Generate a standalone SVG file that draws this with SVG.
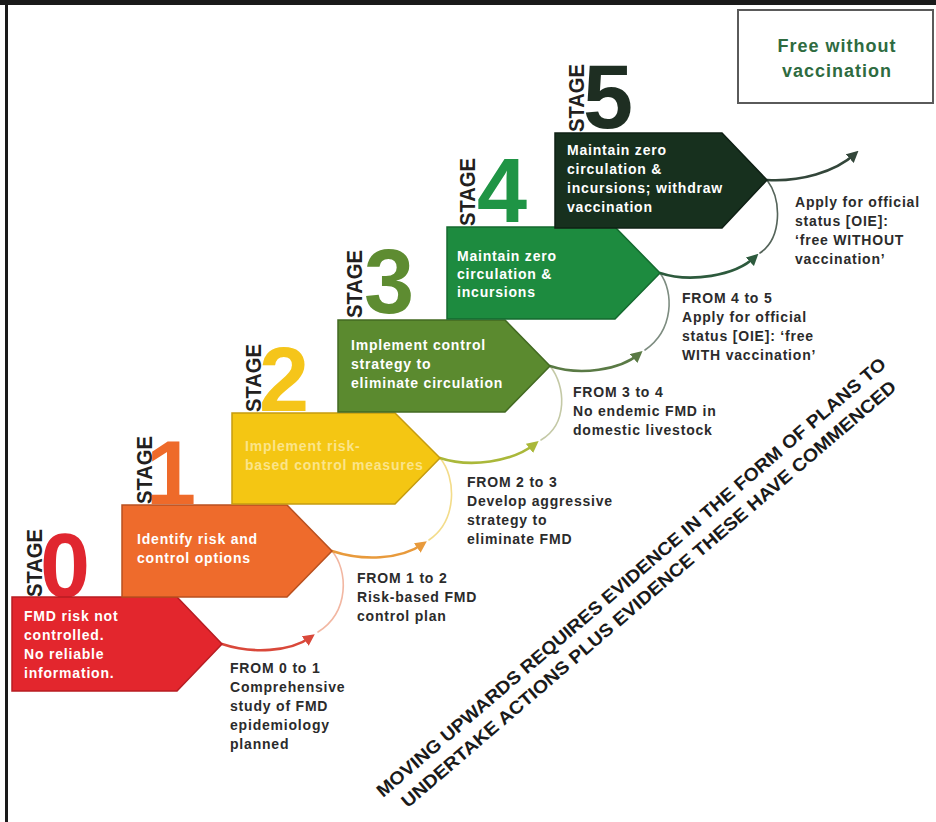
<svg xmlns="http://www.w3.org/2000/svg" width="936" height="822" viewBox="0 0 936 822">
<style>
.frame{fill:#1a1a1a}
.box{stroke-width:1.5;stroke-linejoin:miter}
.bt{font-family:"Liberation Sans",Arial,sans-serif;font-weight:bold;font-size:14px;letter-spacing:0.8px;fill:#ffffff}
.ft{font-family:"Liberation Sans",Arial,sans-serif;font-weight:bold;font-size:14px;letter-spacing:0.8px;fill:#2b2b2b}
.st{font-family:"Liberation Sans",Arial,sans-serif;font-weight:bold;font-size:22px;fill:#231f20}
.dg{font-family:"Liberation Sans",Arial,sans-serif;font-weight:bold;font-size:90px}
.arr{fill:none;stroke-width:2.6;stroke-linecap:round}
.faint{fill:none;stroke-width:1.6;stroke-linecap:round}
.diag{font-family:"Liberation Sans",Arial,sans-serif;font-weight:bold;font-size:18px;fill:#1a1a1a}
.free{font-family:"Liberation Sans",Arial,sans-serif;font-weight:bold;font-size:18px;letter-spacing:1px;fill:#2e6b40}
</style>
<defs>
<marker id="m0" viewBox="0 0 10 10" refX="6" refY="5" markerWidth="4.5" markerHeight="4.5" orient="auto" markerUnits="strokeWidth"><path d="M0,0 L10,5 L0,10 z" fill="#d9483a"/></marker>
<marker id="m1" viewBox="0 0 10 10" refX="6" refY="5" markerWidth="4.5" markerHeight="4.5" orient="auto" markerUnits="strokeWidth"><path d="M0,0 L10,5 L0,10 z" fill="#e89a3c"/></marker>
<marker id="m2" viewBox="0 0 10 10" refX="6" refY="5" markerWidth="4.5" markerHeight="4.5" orient="auto" markerUnits="strokeWidth"><path d="M0,0 L10,5 L0,10 z" fill="#aab83a"/></marker>
<marker id="m3" viewBox="0 0 10 10" refX="6" refY="5" markerWidth="4.5" markerHeight="4.5" orient="auto" markerUnits="strokeWidth"><path d="M0,0 L10,5 L0,10 z" fill="#5a7a45"/></marker>
<marker id="m4" viewBox="0 0 10 10" refX="6" refY="5" markerWidth="4.5" markerHeight="4.5" orient="auto" markerUnits="strokeWidth"><path d="M0,0 L10,5 L0,10 z" fill="#2d5a3d"/></marker>
<marker id="m5" viewBox="0 0 10 10" refX="6" refY="5" markerWidth="4.5" markerHeight="4.5" orient="auto" markerUnits="strokeWidth"><path d="M0,0 L10,5 L0,10 z" fill="#33463a"/></marker>
</defs>
<rect width="936" height="822" fill="#ffffff"/>
<rect class="frame" x="0" y="0" width="936" height="5"/>
<rect class="frame" x="5" y="0" width="3" height="822"/>

<g id="free-box">
<rect x="738" y="10" width="195" height="93" fill="#ffffff" stroke="#5a5a5a" stroke-width="2"/>
<text class="free" x="837" y="52" text-anchor="middle">Free without</text>
<text class="free" x="837" y="77" text-anchor="middle">vaccination</text>
</g>

<g id="connectors">
<path class="faint" d="M332,551 C348,570 350,612 318,632" stroke="#f2b7a2"/>
<path class="arr" d="M222,644 C252,654 290,652 311,637" stroke="#d9483a" marker-end="url(#m0)"/>
<path class="faint" d="M440,458 C456,477 458,520 429,540" stroke="#f3dc8a"/>
<path class="arr" d="M332,551 C362,561 400,560 423,544" stroke="#e89a3c" marker-end="url(#m1)"/>
<path class="faint" d="M550,366 C566,386 568,424 541,440" stroke="#c4c9a6"/>
<path class="arr" d="M440,458 C470,468 512,462 535,444" stroke="#aab83a" marker-end="url(#m2)"/>
<path class="faint" d="M660,273 C674,292 674,330 645,350" stroke="#7d8c80"/>
<path class="arr" d="M550,366 C580,376 620,370 639,354" stroke="#5a7a45" marker-end="url(#m3)"/>
<path class="faint" d="M767,180 C782,200 782,238 760,253" stroke="#55645a"/>
<path class="arr" d="M660,273 C690,283 735,276 755,257" stroke="#2d5a3d" marker-end="url(#m4)"/>
<path class="arr" d="M767,180 C800,182 835,172 855,154" stroke="#33463a" marker-end="url(#m5)"/>
</g>

<g id="stage0">
<text class="st" transform="translate(42,597) rotate(-90)" textLength="68" lengthAdjust="spacingAndGlyphs">STAGE</text>
<text class="dg" x="40" y="597" fill="#e0262f">0</text>
<polygon class="box" points="12,597 177,597 222,644 177,691 12,691" fill="#e3262d" stroke="#b81c22"/>
<text class="bt" x="24" y="621">FMD risk not</text>
<text class="bt" x="24" y="640">controlled.</text>
<text class="bt" x="24" y="659">No reliable</text>
<text class="bt" x="24" y="678">information.</text>
</g>

<g id="stage1">
<text class="st" transform="translate(152,504) rotate(-90)" textLength="68" lengthAdjust="spacingAndGlyphs">STAGE</text>
<text class="dg" x="146" y="504" fill="#ee6a2a">1</text>
<polygon class="box" points="122,505 287,505 332,551 287,597 122,597" fill="#ee6b2c" stroke="#b9501f"/>
<text class="bt" x="137" y="544">Identify risk and</text>
<text class="bt" x="137" y="563">control options</text>
</g>

<g id="stage2">
<text class="st" transform="translate(261,412) rotate(-90)" textLength="68" lengthAdjust="spacingAndGlyphs">STAGE</text>
<text class="dg" x="259" y="411" fill="#f5c51a">2</text>
<polygon class="box" points="232,413 395,413 440,458 395,504 232,504" fill="#f4c613" stroke="#c59c10"/>
<text class="bt" x="245" y="451" fill="#fbe48a" style="fill:#fbe48a">Implement risk-</text>
<text class="bt" x="245" y="470" style="fill:#fbe48a">based control measures</text>
</g>

<g id="stage3">
<text class="st" transform="translate(362,318) rotate(-90)" textLength="68" lengthAdjust="spacingAndGlyphs">STAGE</text>
<text class="dg" x="364" y="313" fill="#5e8c31">3</text>
<polygon class="box" points="338,320 505,320 550,366 505,412 338,412" fill="#5b8a2f" stroke="#436a22"/>
<text class="bt" x="351" y="350">Implement control</text>
<text class="bt" x="351" y="369">strategy to</text>
<text class="bt" x="351" y="388">eliminate circulation</text>
</g>

<g id="stage4">
<text class="st" transform="translate(475,226) rotate(-90)" textLength="68" lengthAdjust="spacingAndGlyphs">STAGE</text>
<text class="dg" x="477" y="222" fill="#1f9445">4</text>
<polygon class="box" points="447,227 615,227 660,273 615,319 447,319" fill="#1d8b3f" stroke="#146a2f"/>
<text class="bt" x="457" y="261">Maintain zero</text>
<text class="bt" x="457" y="279">circulation &amp;</text>
<text class="bt" x="457" y="297">incursions</text>
</g>

<g id="stage5">
<text class="st" transform="translate(584,132) rotate(-90)" textLength="68" lengthAdjust="spacingAndGlyphs">STAGE</text>
<text class="dg" x="583" y="128" fill="#1e2e22">5</text>
<polygon class="box" points="555,133 722,133 767,180 722,228 555,228" fill="#17301e" stroke="#0f2015"/>
<text class="bt" x="567" y="155">Maintain zero</text>
<text class="bt" x="567" y="174">circulation &amp;</text>
<text class="bt" x="567" y="193">incursions; withdraw</text>
<text class="bt" x="567" y="212">vaccination</text>
</g>

<g id="label01">
<text class="ft" x="230" y="673">FROM 0 to 1</text>
<text class="ft" x="230" y="692">Comprehensive</text>
<text class="ft" x="230" y="711">study of FMD</text>
<text class="ft" x="230" y="730">epidemiology</text>
<text class="ft" x="230" y="749">planned</text>
</g>
<g id="label12">
<text class="ft" x="357" y="583">FROM 1 to 2</text>
<text class="ft" x="357" y="602">Risk-based FMD</text>
<text class="ft" x="357" y="621">control plan</text>
</g>
<g id="label23">
<text class="ft" x="467" y="487">FROM 2 to 3</text>
<text class="ft" x="467" y="506">Develop aggressive</text>
<text class="ft" x="467" y="525">strategy to</text>
<text class="ft" x="467" y="544">eliminate FMD</text>
</g>
<g id="label34">
<text class="ft" x="573" y="397">FROM 3 to 4</text>
<text class="ft" x="573" y="416">No endemic FMD in</text>
<text class="ft" x="573" y="435">domestic livestock</text>
</g>
<g id="label45">
<text class="ft" x="682" y="303">FROM 4 to 5</text>
<text class="ft" x="682" y="322">Apply for official</text>
<text class="ft" x="682" y="341">status [OIE]: ‘free</text>
<text class="ft" x="682" y="360">WITH vaccination’</text>
</g>
<g id="label5free">
<text class="ft" x="795" y="207">Apply for official</text>
<text class="ft" x="795" y="226">status [OIE]:</text>
<text class="ft" x="795" y="245">‘free WITHOUT</text>
<text class="ft" x="795" y="264">vaccination’</text>
</g>

<g id="diagonal-note" transform="translate(383,798) rotate(-40.6)">
<text class="diag" x="0" y="0" textLength="664" lengthAdjust="spacingAndGlyphs">MOVING UPWARDS REQUIRES EVIDENCE IN THE FORM OF PLANS TO</text>
<text class="diag" x="12" y="24" textLength="645" lengthAdjust="spacingAndGlyphs">UNDERTAKE ACTIONS PLUS EVIDENCE THESE HAVE COMMENCED</text>
</g>
</svg>
